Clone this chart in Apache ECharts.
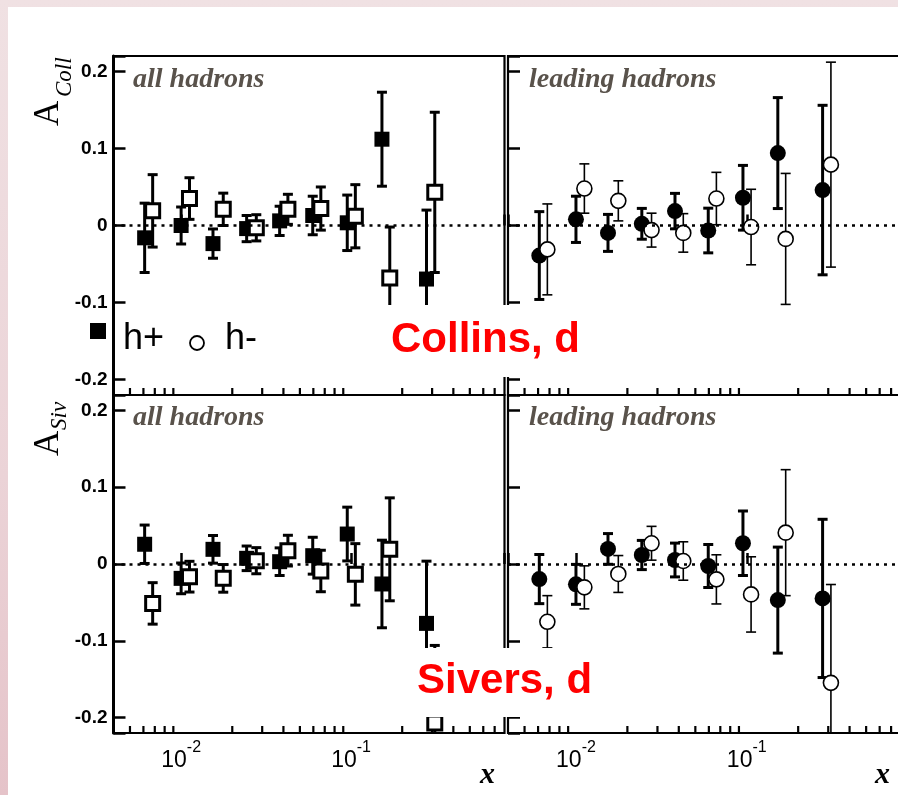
<!DOCTYPE html>
<html>
<head>
<meta charset="utf-8">
<script src="https://cdn.jsdelivr.net/npm/echarts@6/dist/echarts.min.js"></script>
<style>
  html, body { margin:0; padding:0; width:898px; height:795px; overflow:hidden;
    background: linear-gradient(to bottom, #f0e1e3 0%, #ebd3d7 60%, #e5c3c9 100%); }
  #white { position:absolute; left:8px; top:7px; right:0; bottom:0; background:#fff; }
  #chart { position:absolute; left:0; top:0; width:898px; height:795px; }
</style>
</head>
<body>
<div id="white"></div>
<div id="chart"></div>
<script>
// ---- data ----
const xHp = [0.0061, 0.0100, 0.0154, 0.0243, 0.0380, 0.0595, 0.095, 0.152, 0.278];
const xHm = [0.0068, 0.0112, 0.0177, 0.0277, 0.0425, 0.0664, 0.106, 0.169, 0.311];

const collAllHp    = [-0.016, 0.000, -0.0235, -0.004, 0.006, 0.013, 0.0035, 0.112, -0.0695];
const collAllHpErr = [0.045, 0.024, 0.019, 0.017, 0.019, 0.025, 0.036, 0.061, 0.0895];
const collAllHm    = [0.019, 0.035, 0.021, -0.003, 0.021, 0.022, 0.012, -0.068, 0.043];
const collAllHmErr = [0.047, 0.027, 0.021, 0.017, 0.0195, 0.028, 0.041, 0.066, 0.104];

const collLeadHp    = [-0.039, 0.008, -0.0096, 0.0022, 0.0187, -0.0065, 0.036, 0.094, 0.046];
const collLeadHpErr = [0.057, 0.030, 0.024, 0.020, 0.023, 0.029, 0.042, 0.072, 0.110];
const collLeadHm    = [-0.031, 0.048, 0.032, -0.006, -0.0096, 0.035, -0.002, -0.0174, 0.079];
const collLeadHmErr = [0.059, 0.032, 0.026, 0.022, 0.025, 0.034, 0.049, 0.085, 0.133];

const sivAllHp    = [0.0257, -0.0187, 0.0191, 0.0074, 0.003, 0.0108, 0.039, -0.026, -0.0773];
const sivAllHpErr = [0.025, 0.020, 0.018, 0.016, 0.018, 0.024, 0.035, 0.057, 0.081];
const sivAllHm    = [-0.0513, -0.0165, -0.0187, 0.0043, 0.0174, -0.0091, -0.0135, 0.0191, -0.207];
const sivAllHmErr = [0.027, 0.020, 0.018, 0.017, 0.020, 0.027, 0.040, 0.067, 0.101];

const sivLeadHp    = [-0.0196, -0.0265, 0.0196, 0.0117, 0.0052, -0.0026, 0.027, -0.047, -0.0448];
const sivLeadHpErr = [0.032, 0.026, 0.020, 0.019, 0.022, 0.028, 0.042, 0.069, 0.103];
const sivLeadHm    = [-0.0752, -0.0304, -0.013, 0.027, 0.0039, -0.020, -0.0396, 0.0408, -0.1547];
const sivLeadHmErr = [0.034, 0.028, 0.024, 0.022, 0.025, 0.032, 0.049, 0.082, 0.128];

const minorTicks = [0.005,0.006,0.007,0.008,0.009,0.02,0.03,0.04,0.05,0.06,0.07,0.08,0.09,0.2,0.3,0.4,0.5,0.6,0.7];
const xMin = 0.004, xMax = 0.8;
const yMin = -0.22, yMax = 0.22;
const panelTitles = ['all hadrons', 'leading hadrons', 'all hadrons', 'leading hadrons'];

// ---- build ----
const grids = [
  {left:113.5, top:56, width:391, height:339},
  {left:508, top:56, width:393, height:339},
  {left:113.5, top:395, width:391, height:338},
  {left:508, top:395, width:393, height:338}
].map(g => Object.assign({show:true, borderColor:'#000', borderWidth:2.2, backgroundColor:'transparent',
  containLabel:false, outerBoundsMode:'none'}, g));

function near(a,b){ return Math.abs(a-b) < 1e-9; }

const xAxes = [0,1,2,3].map(p => ({
  type:'log', logBase:10, gridIndex:p, min:xMin, max:xMax,
  axisLine:{show:false},
  axisTick:{show:true, inside:true, length:11, lineStyle:{color:'#000', width:2.5}},
  axisLabel:{show:p>=2, margin:7, color:'#000',
    formatter: v => near(v,0.01) ? '{b|10}{s|-2}' : (near(v,0.1) ? '{b|10}{s|-1}' : ''),
    rich:{
      b:{fontSize:23, fontFamily:'Liberation Sans', color:'#000', lineHeight:32, verticalAlign:'bottom'},
      s:{fontSize:16, fontFamily:'Liberation Sans', color:'#000', lineHeight:14, verticalAlign:'top'}
    }},
  splitLine:{show:false}
}));

const yAxes = [0,1,2,3].map(p => ({
  type:'value', gridIndex:p, min:yMin, max:yMax,
  axisLine:{show:p%2===0, lineStyle:{color:'#000', width:3}},
  axisTick:{show:true, inside:true, length:12, lineStyle:{color:'#000', width:2.5}},
  axisLabel:{show:p%2===0, margin:6, color:'#000', fontWeight:'bold', fontSize:19, fontFamily:'Liberation Sans',
    formatter: v => (Math.abs(v) > 0.205 ? '' : (near(v,0) ? '0' : String(Math.round(v*10)/10)))},
  splitLine:{show:false}
}));

function errSeries(p, xs, ys, es, lw) {
  return {
    type:'custom', xAxisIndex:p, yAxisIndex:p, z:2, silent:true,
    data: xs.map((x,i) => [x, ys[i], es[i]]),
    renderItem: (params, api) => {
      const x = api.value(0), y = api.value(1), e = api.value(2);
      const hi = Math.min(y+e, yMax), lo = Math.max(y-e, yMin);
      const pt = api.coord([x, hi]), pb = api.coord([x, lo]);
      const st = {stroke:'#000', lineWidth:lw};
      const ch = [{type:'line', shape:{x1:pt[0], y1:pt[1], x2:pb[0], y2:pb[1]}, style:st}];
      if (y+e <= yMax) ch.push({type:'line', shape:{x1:pt[0]-5, y1:pt[1], x2:pt[0]+5, y2:pt[1]}, style:st});
      if (y-e >= yMin) ch.push({type:'line', shape:{x1:pb[0]-5, y1:pb[1], x2:pb[0]+5, y2:pb[1]}, style:st});
      return {type:'group', children:ch};
    }
  };
}

function minorSeries(p) {
  return {
    type:'custom', xAxisIndex:p, yAxisIndex:p, z:2, silent:true,
    data: minorTicks.map(v => [v, yMin]),
    renderItem: (params, api) => {
      const c = api.coord([api.value(0), yMin]);
      return {type:'line', shape:{x1:c[0], y1:c[1], x2:c[0], y2:c[1]-7}, style:{stroke:'#000', lineWidth:2.2}};
    }
  };
}

function markSeries(p, name, xs, ys, symbol, size, filled, bw, zeroLine) {
  const s = {
    type:'scatter', name:name, xAxisIndex:p, yAxisIndex:p, z:3, silent:true,
    symbol:symbol, symbolSize:size,
    data: xs.map((x,i) => [x, ys[i]]),
    itemStyle: filled ? {color:'#000', opacity:1} : {color:'#fff', borderColor:'#000', borderWidth:bw, opacity:1}
  };
  if (zeroLine) {
    s.markLine = {silent:true, symbol:'none', label:{show:false},
      lineStyle:{color:'#000', width:2.5, type:[3,5], opacity:1}, data:[{yAxis:0}]};
  }
  return s;
}

const series = [];
const panels = [
  {p:0, hp:collAllHp, hpe:collAllHpErr, hm:collAllHm, hme:collAllHmErr, sq:true},
  {p:1, hp:collLeadHp, hpe:collLeadHpErr, hm:collLeadHm, hme:collLeadHmErr, sq:false},
  {p:2, hp:sivAllHp, hpe:sivAllHpErr, hm:sivAllHm, hme:sivAllHmErr, sq:true},
  {p:3, hp:sivLeadHp, hpe:sivLeadHpErr, hm:sivLeadHm, hme:sivLeadHmErr, sq:false}
];
panels.forEach(d => {
  series.push(minorSeries(d.p));
  series.push(errSeries(d.p, xHp, d.hp, d.hpe, 3));
  series.push(markSeries(d.p, 'h+', xHp, d.hp, d.sq ? 'rect' : 'circle', d.sq ? 15 : 16, true, 0, true));
  series.push(errSeries(d.p, xHm, d.hm, d.hme, d.sq ? 3 : 1.6));
  series.push(markSeries(d.p, 'h-', xHm, d.hm, d.sq ? 'rect' : 'circle', d.sq ? 14 : 15, false, d.sq ? 3 : 1.6, false));
});

const serif = 'Liberation Serif';
const graphics = [
  // cover boxes
  {type:'rect', z:100, shape:{x:117, y:305, width:490, height:72}, style:{fill:'#fff'}},
  {type:'rect', z:100, shape:{x:410, y:648, width:202, height:69}, style:{fill:'#fff'}},
  // panel titles
  {type:'text', z:110, x:133, y:79.5, style:{text:panelTitles[0], fontFamily:serif, fontStyle:'italic', fontWeight:'bold', fontSize:28, fill:'#59524b', verticalAlign:'middle'}},
  {type:'text', z:110, x:529, y:79.5, style:{text:panelTitles[1], fontFamily:serif, fontStyle:'italic', fontWeight:'bold', fontSize:28, fill:'#59524b', verticalAlign:'middle'}},
  {type:'text', z:110, x:133, y:417.5, style:{text:panelTitles[2], fontFamily:serif, fontStyle:'italic', fontWeight:'bold', fontSize:28, fill:'#59524b', verticalAlign:'middle'}},
  {type:'text', z:110, x:529, y:417.5, style:{text:panelTitles[3], fontFamily:serif, fontStyle:'italic', fontWeight:'bold', fontSize:28, fill:'#59524b', verticalAlign:'middle'}},
  // y titles
  {type:'text', z:110, x:48.5, y:126, rotation:Math.PI/2, style:{text:'A', fontFamily:serif, fontSize:35, fill:'#000', verticalAlign:'middle', align:'left'}},
  {type:'text', z:110, x:64.5, y:97, rotation:Math.PI/2, style:{text:'Coll', fontFamily:serif, fontStyle:'italic', fontSize:23, fill:'#000', verticalAlign:'middle', align:'left'}},
  {type:'text', z:110, x:49, y:456, rotation:Math.PI/2, style:{text:'A', fontFamily:serif, fontSize:35, fill:'#000', verticalAlign:'middle', align:'left'}},
  {type:'text', z:110, x:60, y:430, rotation:Math.PI/2, style:{text:'Siv', fontFamily:serif, fontStyle:'italic', fontSize:23, fill:'#000', verticalAlign:'middle', align:'left'}},
  // x titles
  {type:'text', z:110, x:480, y:775, style:{text:'x', fontFamily:serif, fontStyle:'italic', fontWeight:'bold', fontSize:30, fill:'#000', verticalAlign:'middle'}},
  {type:'text', z:110, x:875, y:775, style:{text:'x', fontFamily:serif, fontStyle:'italic', fontWeight:'bold', fontSize:30, fill:'#000', verticalAlign:'middle'}},
  // legend
  {type:'rect', z:110, shape:{x:90, y:323, width:16, height:16}, style:{fill:'#000'}},
  {type:'text', z:110, x:123, y:339, style:{text:'h+', fontFamily:'Liberation Sans', fontSize:36, fill:'#000', verticalAlign:'middle'}},
  {type:'circle', z:110, shape:{cx:197, cy:343, r:7}, style:{fill:'#fff', stroke:'#000', lineWidth:1.8}},
  {type:'text', z:110, x:225, y:339, style:{text:'h-', fontFamily:'Liberation Sans', fontSize:36, fill:'#000', verticalAlign:'middle'}},
  // red labels
  {type:'text', z:110, x:391, y:340, style:{text:'Collins, d', fontFamily:'Liberation Sans', fontWeight:'bold', fontSize:42, fill:'#ff0000', verticalAlign:'middle'}},
  {type:'text', z:110, x:417, y:681, style:{text:'Sivers, d', fontFamily:'Liberation Sans', fontWeight:'bold', fontSize:42, fill:'#ff0000', verticalAlign:'middle'}}
];

const chart = echarts.init(document.getElementById('chart'), null, {renderer:'canvas'});
chart.setOption({
  animation:false,
  backgroundColor:'transparent',
  grid:grids, xAxis:xAxes, yAxis:yAxes, series:series, graphic:graphics
});
</script>
</body>
</html>
